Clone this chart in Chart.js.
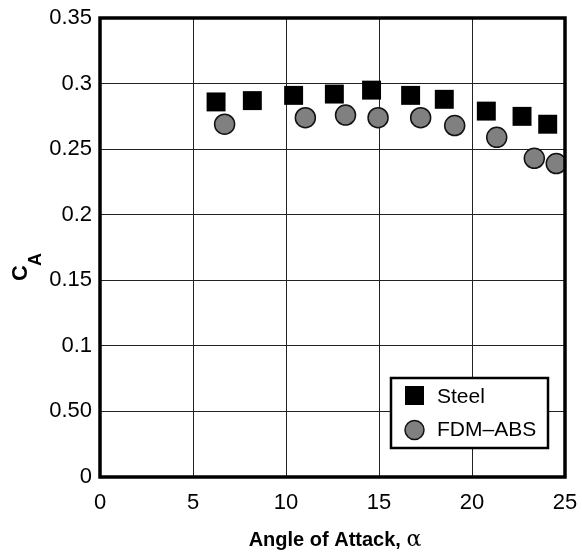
<!DOCTYPE html>
<html>
<head>
<meta charset="utf-8">
<script src="https://cdn.jsdelivr.net/npm/chart.js@4/dist/chart.umd.min.js"></script>
<style>
  html, body { margin: 0; padding: 0; background: #fff; }
  #wrap { width: 582px; height: 556px; }
</style>
</head>
<body>
<div id="wrap"><canvas id="chart" width="582" height="556"></canvas></div>
<script>
const FONT = "'Liberation Sans', Arial, sans-serif";

// data
const steelAngle = [6.24, 8.19, 10.41, 12.6, 14.6, 16.7, 18.51, 20.77, 22.69, 24.07];
const steelCA    = [0.286, 0.287, 0.291, 0.292, 0.295, 0.291, 0.288, 0.279, 0.275, 0.269];
const absAngle   = [6.7, 11.04, 13.2, 14.95, 17.24, 19.07, 21.33, 23.35, 24.53];
const absCA      = [0.269, 0.274, 0.276, 0.274, 0.274, 0.268, 0.259, 0.243, 0.239];

const xTicks = [0, 5, 10, 15, 20, 25];
const yTicks = [0, 0.05, 0.1, 0.15, 0.2, 0.25, 0.3, 0.35];
const yTickLabels = ["0", "0.50", "0.1", "0.15", "0.2", "0.25", "0.3", "0.35"];

const seriesNames = ["Steel", "FDM\u2013ABS"];

function toPoints(xs, ys) {
  return xs.map((x, i) => ({ x, y: ys[i] }));
}

// frame, axis titles and the legend box
const decor = {
  id: "decor",
  afterDatasetsDraw(chart) {
    const { ctx, chartArea: a } = chart;
    ctx.save();
    ctx.strokeStyle = "#000";
    ctx.lineWidth = 3.5;
    ctx.strokeRect(a.left, a.top, a.right - a.left, a.bottom - a.top);

    // y title: C with subscript A
    ctx.fillStyle = "#000";
    ctx.translate(27, 281);
    ctx.rotate(-Math.PI / 2);
    ctx.textBaseline = "alphabetic";
    ctx.textAlign = "left";
    ctx.font = "bold 22px " + FONT;
    ctx.fillText("C", 0, 0);
    const cw = ctx.measureText("C").width;
    ctx.font = "bold 18px " + FONT;
    ctx.fillText("A", cw - 1, 14);
    ctx.restore();

    // x title
    ctx.save();
    ctx.fillStyle = "#000";
    ctx.textBaseline = "alphabetic";
    ctx.textAlign = "left";
    ctx.font = "bold 20px " + FONT;
    const t1 = "Angle of Attack, ";
    const w1 = ctx.measureText(t1).width;
    ctx.font = "22px 'DejaVu Serif', serif";
    const w2 = ctx.measureText("\u03b1").width;
    const x0 = 335 - (w1 + w2) / 2;
    ctx.font = "bold 20px " + FONT;
    ctx.fillText(t1, x0, 546);
    ctx.font = "22px 'DejaVu Serif', serif";
    ctx.fillText("\u03b1", x0 + w1, 546);
    ctx.restore();

    // legend
    ctx.save();
    const lx = 391, ly = 378, lw = 157, lh = 70;
    ctx.fillStyle = "#fff";
    ctx.fillRect(lx, ly, lw, lh);
    ctx.strokeStyle = "#000";
    ctx.lineWidth = 2.5;
    ctx.strokeRect(lx, ly, lw, lh);
    ctx.fillStyle = "#000";
    ctx.fillRect(405, 386, 19, 19);
    ctx.beginPath();
    ctx.arc(414.5, 430, 9.5, 0, Math.PI * 2);
    ctx.fillStyle = "#808080";
    ctx.fill();
    ctx.lineWidth = 1.5;
    ctx.strokeStyle = "#111";
    ctx.stroke();
    ctx.fillStyle = "#000";
    ctx.font = "21px " + FONT;
    ctx.textBaseline = "middle";
    ctx.fillText(seriesNames[0], 437, 397);
    ctx.fillText(seriesNames[1], 437, 430);
    ctx.restore();
  }
};

new Chart(document.getElementById("chart"), {
  type: "scatter",
  data: {
    datasets: [
      {
        label: seriesNames[0],
        data: toPoints(steelAngle, steelCA),
        pointStyle: "rect",
        pointRadius: 13.4,
        pointHoverRadius: 13.4,
        backgroundColor: "#000",
        borderColor: "#000",
        borderWidth: 0
      },
      {
        label: seriesNames[1],
        data: toPoints(absAngle, absCA),
        pointStyle: "circle",
        pointRadius: 10,
        pointHoverRadius: 10,
        backgroundColor: "#808080",
        borderColor: "#111",
        borderWidth: 1.5
      }
    ]
  },
  options: {
    responsive: false,
    animation: false,
    layout: { padding: { left: 0, right: 17, top: 18, bottom: 0 } },
    plugins: {
      legend: { display: false },
      tooltip: { enabled: false }
    },
    scales: {
      x: {
        type: "linear",
        min: 0,
        max: 25,
        afterBuildTicks: (s) => { s.ticks = xTicks.map((v) => ({ value: v })); },
        afterFit: (s) => { s.height = 79; s.paddingLeft = 0; s.paddingRight = 0; },
        grid: { color: "#222", lineWidth: 1, drawTicks: false },
        border: { display: false },
        ticks: {
          color: "#000",
          padding: 13,
          maxRotation: 0,
          font: { family: FONT, size: 22 }
        }
      },
      y: {
        type: "linear",
        min: 0,
        max: 0.35,
        afterBuildTicks: (s) => { s.ticks = yTicks.map((v) => ({ value: v })); },
        afterFit: (s) => { s.width = 100; s.paddingTop = 0; s.paddingBottom = 0; },
        grid: { color: "#222", lineWidth: 1, drawTicks: false },
        border: { display: false },
        ticks: {
          color: "#000",
          padding: 8,
          font: { family: FONT, size: 22 },
          callback: (v) => {
            const i = yTicks.findIndex((t) => Math.abs(t - v) < 1e-9);
            return i >= 0 ? yTickLabels[i] : "";
          }
        }
      }
    }
  },
  plugins: [decor]
});
</script>
</body>
</html>
